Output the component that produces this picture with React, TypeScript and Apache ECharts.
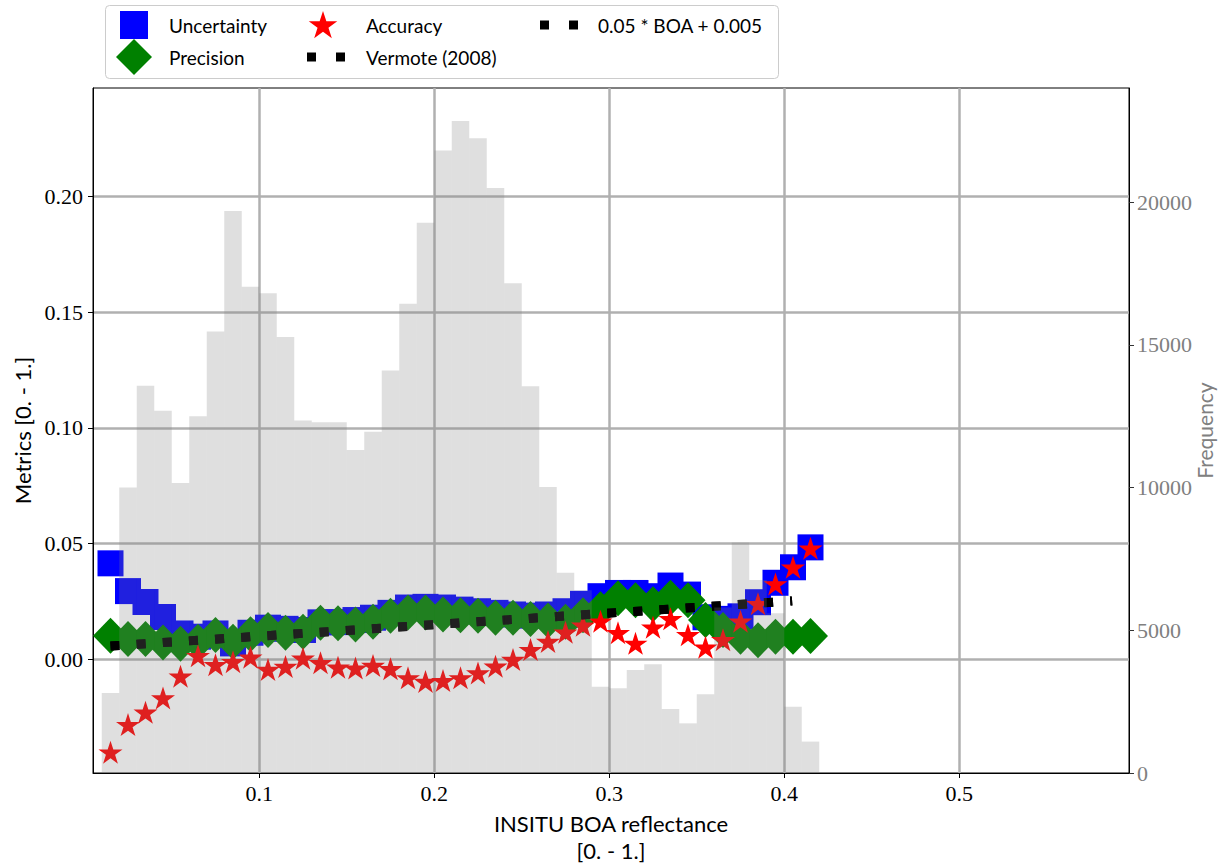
import React, { useEffect, useRef } from 'react';
import * as echarts from 'echarts';

// Histogram (right axis): bin starts, counts
const binStarts = [0.01, 0.02, 0.03, 0.04, 0.05, 0.06, 0.07, 0.08, 0.09, 0.10, 0.11, 0.12, 0.13, 0.14, 0.15, 0.16, 0.17, 0.18, 0.19, 0.20, 0.21, 0.22, 0.23, 0.24, 0.25, 0.26, 0.27, 0.28, 0.29, 0.30, 0.31, 0.32, 0.33, 0.34, 0.35, 0.36, 0.37, 0.38, 0.39, 0.40, 0.41];
const binWidth = 0.01;
const frequency = [2800, 10000, 13570, 12690, 10160, 12500, 15470, 19690, 17040, 16810, 15280, 12350, 12290, 12290, 11320, 11960, 14100, 16440, 19280, 21810, 22840, 22240, 20500, 17160, 13550, 10020, 7020, 6400, 3020, 2970, 3610, 3810, 2240, 1740, 2760, 5800, 8080, 6760, 5600, 2320, 1100];

// Metrics (left axis) at bin centres
const binCenters = [0.015, 0.025, 0.035, 0.045, 0.055, 0.065, 0.075, 0.085, 0.095, 0.105, 0.115, 0.125, 0.135, 0.145, 0.155, 0.165, 0.175, 0.185, 0.195, 0.205, 0.215, 0.225, 0.235, 0.245, 0.255, 0.265, 0.275, 0.285, 0.295, 0.305, 0.315, 0.325, 0.335, 0.345, 0.355, 0.365, 0.375, 0.385, 0.395, 0.405, 0.415];
const uncertainty = [0.0415, 0.0295, 0.0248, 0.0183, 0.0112, 0.0098, 0.0112, 0.0069, 0.0115, 0.0137, 0.0132, 0.0127, 0.0160, 0.0161, 0.0170, 0.0180, 0.0201, 0.0224, 0.0227, 0.0224, 0.0215, 0.0208, 0.0201, 0.0194, 0.0189, 0.0194, 0.0208, 0.0240, 0.0273, 0.0287, 0.0287, 0.0273, 0.0319, 0.0280, 0.0182, 0.0175, 0.0186, 0.0247, 0.0331, 0.0398, 0.0484];
const precision = [0.0102, 0.0088, 0.0088, 0.0073, 0.0068, 0.0076, 0.0105, 0.0076, 0.0109, 0.0127, 0.0115, 0.0119, 0.0158, 0.0156, 0.0151, 0.0163, 0.0189, 0.0203, 0.0203, 0.0194, 0.0191, 0.0189, 0.0180, 0.0180, 0.0174, 0.0168, 0.0163, 0.0191, 0.0217, 0.0264, 0.0256, 0.0238, 0.0266, 0.0256, 0.0170, 0.0127, 0.0098, 0.0083, 0.0098, 0.0098, 0.0101];
const accuracy = [-0.0406, -0.0287, -0.0234, -0.0172, -0.0078, 0.0011, -0.0028, -0.0015, 0.0004, -0.0049, -0.0036, 0.0000, -0.0020, -0.0039, -0.0043, -0.0032, -0.0046, -0.0085, -0.0101, -0.0097, -0.0085, -0.0064, -0.0035, -0.0006, 0.0037, 0.0072, 0.0112, 0.0142, 0.0160, 0.0110, 0.0064, 0.0134, 0.0170, 0.0101, 0.0047, 0.0080, 0.0160, 0.0235, 0.0321, 0.0393, 0.0475];

// Reference lines (straight, two end points each)
const vermoteX = [0.015, 0.4045];
const vermoteY = [0.00575, 0.02523];
const boaX = [0.015, 0.4045];
const boaY = [0.00575, 0.02523];

// Ticks
const xTicks = [0.1, 0.2, 0.3, 0.4, 0.5];
const yTicks = [0, 0.05, 0.1, 0.15, 0.2];
const freqTicks = [0, 5000, 10000, 15000, 20000];

// Legend entries (text)
const legendNames = ['Uncertainty', 'Precision', 'Accuracy', 'Vermote (2008)', '0.05 * BOA + 0.005'];

const STAR = 'path://M100,0L122.45,69.1L195.11,69.1L136.33,111.8L158.78,180.9L100,138.2L41.22,180.9L63.67,111.8L4.89,69.1L77.55,69.1Z';

const SANS = 'Lato, "Open Sans", sans-serif';
const SERIF = '"Liberation Serif", "DejaVu Serif", serif';

function starPoints(cx: number, cy: number, r: number) {
  const pts: number[][] = [];
  for (let i = 0; i < 10; i++) {
    const a = -Math.PI / 2 + (i * Math.PI) / 5;
    const rr = i % 2 === 0 ? r : r * 0.382;
    pts.push([cx + rr * Math.cos(a), cy + rr * Math.sin(a)]);
  }
  return pts;
}

function legendText(text: string, x: number, y: number) {
  return {
    type: 'text',
    z: 20,
    style: { text, x, y, fill: '#000', fontFamily: SANS, fontSize: 19, verticalAlign: 'middle', align: 'left' },
  };
}

export default function App() {
  const ref = useRef<HTMLDivElement>(null);
  useEffect(() => {
    const chart = echarts.init(ref.current!, null, { renderer: 'svg' });
    const option: any = {
      animation: false,
      backgroundColor: '#fff',
      grid: {
        left: 93, right: 90, top: 88, bottom: 94,
        outerBoundsMode: 'none',
        containLabel: false,
        show: true, borderColor: '#000', borderWidth: 1, backgroundColor: 'transparent',
      },
      graphic: [
        {
          type: 'rect',
          z: 15,
          shape: { x: 105.5, y: 5.5, width: 673, height: 73, r: 4 },
          style: { fill: 'rgba(255,255,255,0.8)', stroke: '#cccccc', lineWidth: 1 },
        },
        // Uncertainty
        { type: 'rect', z: 20, shape: { x: 120, y: 11, width: 28, height: 28 }, style: { fill: '#0000ff' } },
        legendText(legendNames[0], 169, 25),
        // Precision
        { type: 'polygon', z: 20, shape: { points: [[134, 39], [152, 57], [134, 75], [116, 57]] }, style: { fill: '#008000' } },
        legendText(legendNames[1], 169, 57),
        // Accuracy
        { type: 'polygon', z: 20, shape: { points: starPoints(323, 26, 15) }, style: { fill: '#ff0000' } },
        legendText(legendNames[2], 366, 25),
        // Vermote
        { type: 'rect', z: 20, shape: { x: 307, y: 52.5, width: 9, height: 9 }, style: { fill: '#000' } },
        { type: 'rect', z: 20, shape: { x: 336, y: 52.5, width: 9, height: 9 }, style: { fill: '#000' } },
        legendText(legendNames[3], 366, 57),
        // 0.05 * BOA + 0.005
        { type: 'rect', z: 20, shape: { x: 540, y: 20.5, width: 9, height: 9 }, style: { fill: '#000' } },
        { type: 'rect', z: 20, shape: { x: 569, y: 20.5, width: 9, height: 9 }, style: { fill: '#000' } },
        legendText(legendNames[4], 598, 25),
      ],
      xAxis: {
        type: 'value',
        min: 0.005,
        max: 0.597,
        name: 'INSITU BOA reflectance\n[0. - 1.]',
        nameLocation: 'middle',
        nameGap: 37,
        nameTextStyle: { fontFamily: SANS, fontSize: 22, color: '#000', lineHeight: 27 },
        axisLine: { show: true, onZero: false, lineStyle: { color: '#000', width: 1 } },
        axisTick: { show: true, length: 5, inside: false, customValues: xTicks, lineStyle: { color: '#000' } },
        axisLabel: { customValues: xTicks, formatter: (v: number) => v.toFixed(1), margin: 9, fontFamily: SERIF, fontSize: 22, color: '#000' },
        splitLine: { show: true, lineStyle: { color: '#b0b0b0', width: 2.5 } },
      },
      yAxis: [
        {
          type: 'value',
          position: 'left',
          min: -0.0491,
          max: 0.2469,
          name: 'Metrics [0. - 1.]',
          nameLocation: 'middle',
          nameGap: 56,
          nameTextStyle: { fontFamily: SANS, fontSize: 22, color: '#000' },
          axisLine: { show: true, onZero: false, lineStyle: { color: '#000', width: 1 } },
          axisTick: { show: true, length: 5, inside: false, customValues: yTicks, lineStyle: { color: '#000' } },
          axisLabel: { customValues: yTicks, formatter: (v: number) => v.toFixed(2), margin: 10, fontFamily: SERIF, fontSize: 22, color: '#000' },
          splitLine: { show: true, lineStyle: { color: '#b0b0b0', width: 2.5 } },
        },
        {
          type: 'value',
          position: 'right',
          min: 0,
          max: 24000,
          name: 'Frequency',
          nameLocation: 'middle',
          nameGap: 65,
          nameMoveOverlap: false,
          nameTextStyle: { fontFamily: SANS, fontSize: 21, color: '#808080' },
          axisLine: { show: true, onZero: false, lineStyle: { color: '#000', width: 1 } },
          axisTick: { show: true, length: 5, inside: false, customValues: freqTicks, lineStyle: { color: '#333' } },
          axisLabel: { customValues: freqTicks, formatter: (v: number) => String(v), margin: 8, fontFamily: SERIF, fontSize: 22, color: '#808080' },
          splitLine: { show: false },
        },
      ],
      series: [
        {
          name: legendNames[0],
          type: 'scatter',
          yAxisIndex: 0,
          symbol: 'rect',
          symbolSize: 26,
          itemStyle: { color: '#0000ff', opacity: 1 },
          z: 2,
          data: binCenters.map((x, i) => [x, uncertainty[i]]),
        },
        {
          name: legendNames[1],
          type: 'scatter',
          yAxisIndex: 0,
          symbol: 'diamond',
          symbolSize: [35, 36],
          itemStyle: { color: '#008000', opacity: 1 },
          z: 3,
          data: binCenters.map((x, i) => [x, precision[i]]),
        },
        {
          name: legendNames[2],
          type: 'scatter',
          yAxisIndex: 0,
          symbol: STAR,
          symbolSize: [24, 23],
          symbolOffset: [0, -1.2],
          itemStyle: { color: '#ff0000', opacity: 1 },
          z: 4,
          data: binCenters.map((x, i) => [x, accuracy[i]]),
        },
        {
          name: legendNames[3],
          type: 'line',
          yAxisIndex: 0,
          symbol: 'none',
          color: '#000',
          lineStyle: { color: '#000', width: 9, type: [9, 17.2], cap: 'butt' },
          z: 5,
          data: vermoteX.map((x, i) => [x, vermoteY[i]]),
        },
        {
          name: legendNames[4],
          type: 'line',
          yAxisIndex: 0,
          symbol: 'none',
          color: '#000',
          lineStyle: { color: '#000', width: 9, type: [9, 17.2], cap: 'butt' },
          z: 5,
          data: boaX.map((x, i) => [x, boaY[i]]),
        },
        {
          name: 'Histogram',
          type: 'custom',
          yAxisIndex: 1,
          silent: true,
          z: 10,
          encode: { x: [0, 1], y: 2 },
          data: binStarts.map((s, i) => [s, s + binWidth, frequency[i]]),
          renderItem: (params: any, api: any) => {
            const p0 = api.coord([api.value(0), api.value(2)]);
            const p1 = api.coord([api.value(1), 0]);
            return {
              type: 'rect',
              shape: { x: p0[0], y: p0[1], width: p1[0] - p0[0], height: p1[1] - p0[1] },
              style: { fill: 'rgba(128,128,128,0.25)' },
            };
          },
        },
      ],
    };
    chart.setOption(option);
    return () => chart.dispose();
  }, []);
  return <div ref={ref} style={{ position: 'fixed', left: 0, top: 0, width: 1219, height: 867, background: '#fff' }} />;
}
